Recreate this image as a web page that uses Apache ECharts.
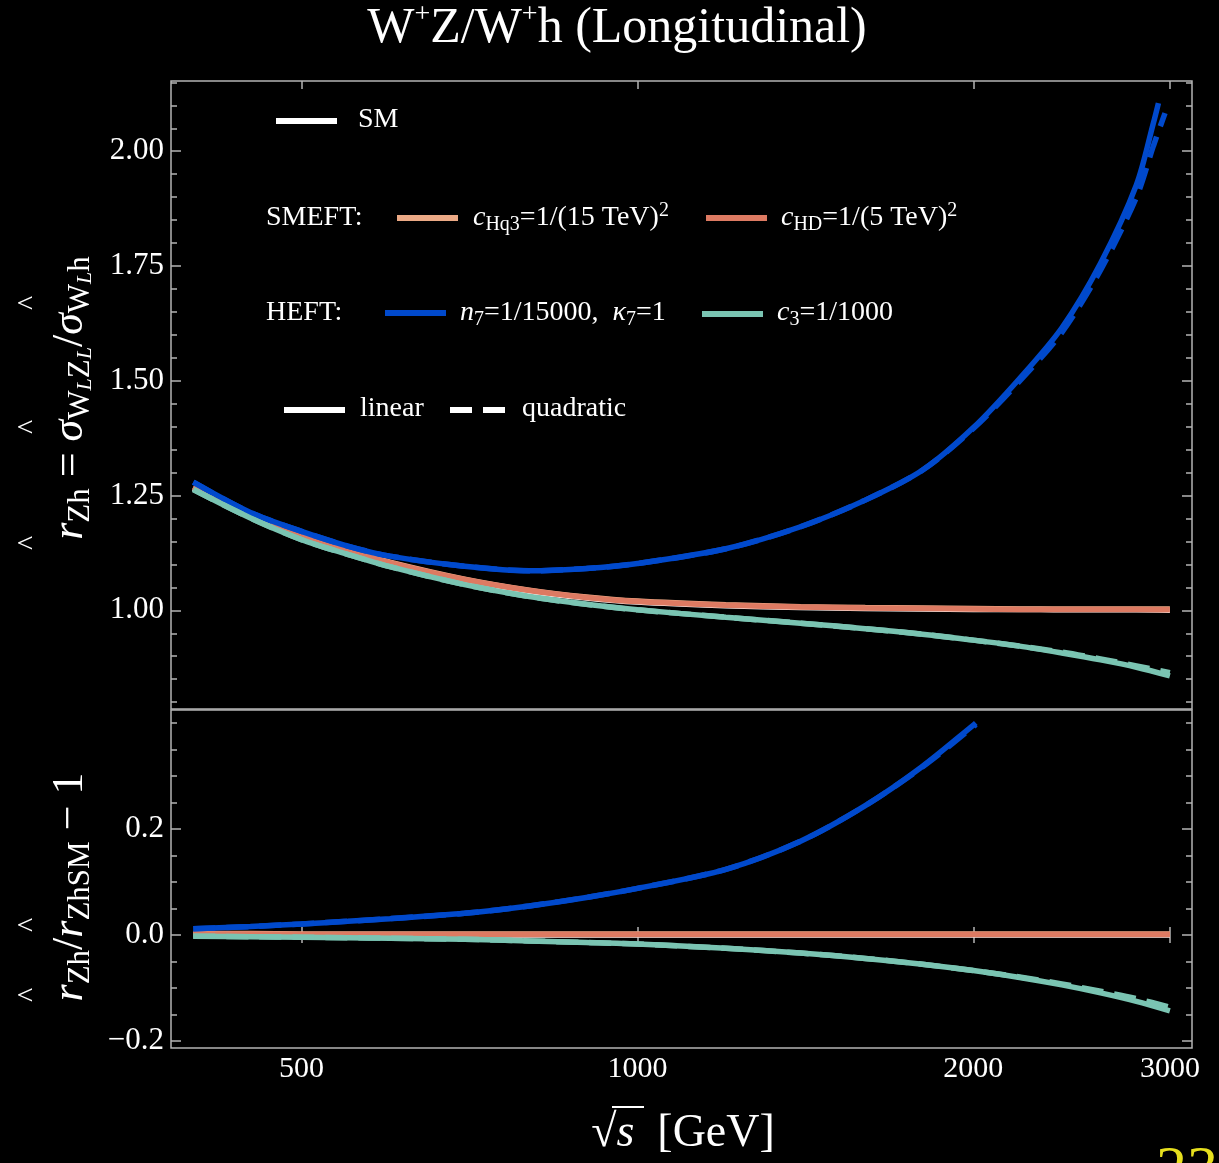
<!DOCTYPE html>
<html>
<head>
<meta charset="utf-8">
<title>W+Z/W+h (Longitudinal)</title>
<script src="https://cdn.jsdelivr.net/npm/echarts@6/dist/echarts.min.js"></script>
<style>
  html, body { margin: 0; padding: 0; background: #000; }
  #main { width: 1219px; height: 1163px; }
</style>
</head>
<body>
<div id="main"></div>
<script>
// sqrt(s) in GeV
var energies = [400, 450, 500, 550, 600, 700, 800, 900, 1000, 1200, 1400, 1600, 1800, 2000, 2200, 2400, 2600, 2800, 3000];

// top panel: r_Zh = sigma(WL ZL) / sigma(WL h)
var smTop   = [1.266, 1.205, 1.159, 1.128, 1.102, 1.065, 1.041, 1.027, 1.018, 1.010, 1.006, 1.004, 1.003, 1.002, 1.002, 1.001, 1.001, 1.001, 1.000];
var cHq3Top = [1.269, 1.208, 1.162, 1.131, 1.105, 1.068, 1.044, 1.029, 1.020, 1.012, 1.008, 1.006, 1.005, 1.004, 1.003, 1.003, 1.003, 1.003, 1.003];
var cHDTop  = [1.268, 1.207, 1.161, 1.130, 1.104, 1.067, 1.043, 1.028, 1.019, 1.011, 1.007, 1.005, 1.004, 1.003, 1.002, 1.002, 1.002, 1.002, 1.001];
var c3Top   = [1.263, 1.201, 1.154, 1.122, 1.095, 1.056, 1.030, 1.013, 1.001, 0.985, 0.972, 0.960, 0.948, 0.935, 0.922, 0.907, 0.892, 0.876, 0.857];
var c3TopQ  = [1.263, 1.201, 1.154, 1.122, 1.095, 1.056, 1.030, 1.013, 1.001, 0.985, 0.972, 0.960, 0.948, 0.935, 0.922, 0.909, 0.894, 0.879, 0.864];

var n7Energies  = [400, 450, 500, 550, 600, 700, 800, 900, 1000, 1200, 1400, 1600, 1800, 2000, 2200, 2400, 2600, 2800, 2900, 2930];
var n7Top       = [1.279, 1.213, 1.172, 1.140, 1.118, 1.096, 1.086, 1.091, 1.102, 1.134, 1.182, 1.240, 1.305, 1.398, 1.505, 1.615, 1.756, 1.927, 2.062, 2.105];
var n7EnergiesQ = [400, 450, 500, 550, 600, 700, 800, 900, 1000, 1200, 1400, 1600, 1800, 2000, 2200, 2400, 2600, 2800, 2900, 2970];
var n7TopQ      = [1.279, 1.213, 1.172, 1.140, 1.118, 1.096, 1.086, 1.091, 1.102, 1.134, 1.182, 1.240, 1.305, 1.396, 1.499, 1.605, 1.741, 1.900, 2.012, 2.083];

// bottom panel: r_Zh / r_ZhSM - 1
var smBot   = [0, 0, 0, 0, 0, 0, 0, 0, 0, 0, 0, 0, 0, 0, 0, 0, 0, 0, 0];
var cHq3Bot = [0.003, 0.003, 0.002, 0.002, 0.002, 0.002, 0.002, 0.002, 0.002, 0.002, 0.002, 0.002, 0.002, 0.002, 0.002, 0.002, 0.002, 0.002, 0.002];
var cHDBot  = [0.002, 0.002, 0.001, 0.001, 0.001, 0.001, 0.001, 0.001, 0.001, 0.001, 0.001, 0.001, 0.001, 0.001, 0.001, 0.001, 0.001, 0.001, 0.001];
var c3Bot   = [-0.002, -0.003, -0.004, -0.005, -0.006, -0.008, -0.011, -0.014, -0.017, -0.025, -0.034, -0.044, -0.055, -0.067, -0.080, -0.094, -0.109, -0.125, -0.143];
var c3BotQ  = [-0.002, -0.003, -0.004, -0.005, -0.006, -0.008, -0.011, -0.014, -0.017, -0.025, -0.034, -0.044, -0.055, -0.067, -0.079, -0.092, -0.106, -0.120, -0.136];

var n7BotEnergies = [400, 450, 500, 550, 600, 700, 800, 900, 1000, 1200, 1400, 1600, 1800, 2000, 2010];
var n7Bot  = [0.012, 0.016, 0.021, 0.026, 0.031, 0.041, 0.055, 0.071, 0.088, 0.124, 0.177, 0.244, 0.318, 0.396, 0.400];
var n7BotQ = [0.012, 0.016, 0.021, 0.026, 0.031, 0.041, 0.055, 0.071, 0.088, 0.124, 0.177, 0.244, 0.317, 0.393, 0.397];

// ticks
var xTicks = [500, 1000, 2000, 3000];
var topMajor = [1.00, 1.25, 1.50, 1.75, 2.00];
var topMinor = [0.80, 0.85, 0.90, 0.95, 1.05, 1.10, 1.15, 1.20, 1.30, 1.35, 1.40, 1.45, 1.55, 1.60, 1.65, 1.70, 1.80, 1.85, 1.90, 1.95, 2.05, 2.10, 2.15];
var botMajor = [-0.2, 0.0, 0.2];
var botMinor = [-0.15, -0.10, -0.05, 0.05, 0.10, 0.15, 0.25, 0.30, 0.35, 0.40];

var FONT = 'Liberation Serif';
var FRAME = '#b4b4b4';
var colSM = '#ffffff', colHq3 = '#eba985', colHD = '#dd7a62', colN7 = '#0049cc', colC3 = '#7ac4b2';

// x is drawn on log10(sqrt s); labels turn it back to GeV
var xMin = Math.log10(382), xMax = Math.log10(3140);
var xTickLog = xTicks.map(function (v) { return Math.log10(v); });

function pts(es, vs) {
    return es.map(function (e, i) { return [Math.log10(e), vs[i]]; });
}

function line(name, es, vs, color, gi, dashed) {
    return {
        name: name, type: 'line', xAxisIndex: gi, yAxisIndex: gi * 2,
        data: pts(es, vs), symbol: 'none', smooth: 0.3,
        lineStyle: { color: color, width: 5.5, type: dashed ? [22, 11] : 'solid', cap: 'butt' },
        silent: true
    };
}

function xAx(gi, pos, labels) {
    return {
        type: 'value', gridIndex: gi, position: pos, min: xMin, max: xMax,
        axisLine: { show: false }, splitLine: { show: false },
        axisTick: { show: true, inside: true, length: 8, customValues: xTickLog, lineStyle: { color: FRAME, width: 1.5 } },
        axisLabel: {
            show: labels, customValues: xTickLog, margin: 6,
            color: '#fff', fontFamily: FONT, fontSize: 30,
            formatter: function (v) { return String(Math.round(Math.pow(10, v))); }
        }
    };
}

function yAx(gi, pos, min, max, ticks, len, labels, fmt) {
    return {
        type: 'value', gridIndex: gi, position: pos, min: min, max: max,
        axisLine: { show: false }, splitLine: { show: false },
        axisTick: { show: true, inside: true, length: len, customValues: ticks, lineStyle: { color: FRAME, width: 1.5 } },
        axisLabel: { show: labels, customValues: ticks, margin: 7, color: '#fff', fontFamily: FONT, fontSize: 31, formatter: fmt }
    };
}

var fmtTop = function (v) { return v.toFixed(2); };
var fmtBot = function (v) { return (v < -1e-9 ? '\u2212' : '') + Math.abs(v).toFixed(1); };

var topMin = 0.785, topMax = 2.153, botMin = -0.213, botMax = 0.4245;

// rich text styles
function rs(size, lh, extra) {
    var o = { fontFamily: FONT, fontSize: size, lineHeight: lh, fill: '#fff' };
    for (var k in extra) o[k] = extra[k];
    return o;
}
var legRich = {
    m: rs(28, 34, {}),
    i: rs(28, 34, { fontStyle: 'italic' }),
    s: rs(20, 17, { verticalAlign: 'bottom' }),
    p: rs(20, 20, { verticalAlign: 'top' })
};
var yRich = {
    m: rs(44, 52, {}),
    i: rs(44, 52, { fontStyle: 'italic' }),
    s: rs(31, 27, { verticalAlign: 'bottom' }),
    ss: rs(22, 8, { verticalAlign: 'bottom', fontStyle: 'italic' })
};

function txt(x, y, text, rich, extra) {
    var st = { text: text, rich: rich, fill: '#fff', align: 'left', verticalAlign: 'middle' };
    for (var k in extra) st[k] = extra[k];
    return { type: 'text', x: x, y: y, silent: true, style: st };
}
function seg(x1, x2, y, color, dash) {
    return { type: 'line', silent: true, shape: { x1: x1, y1: y, x2: x2, y2: y },
             style: { stroke: color, lineWidth: 6, lineDash: dash || null } };
}
function hat(x, y) {
    return { type: 'text', x: x, y: y, rotation: Math.PI / 2, silent: true,
             style: { text: '^', fill: '#fff', fontFamily: FONT, fontSize: 30, align: 'center', verticalAlign: 'middle' } };
}

var graphics = [
    // title
    txt(617, 29, '{m|W}{p|+}{m|Z/W}{p|+}{m|h (Longitudinal)}', {
        m: rs(50, 56, {}), p: rs(28, 30, { verticalAlign: 'top' })
    }, { align: 'center' }),
    // legend
    seg(276, 337, 121, colSM),
    txt(358, 120, '{m|SM}', legRich),
    txt(266, 218, '{m|SMEFT:}', legRich),
    seg(397, 458, 218, colHq3),
    txt(473, 218, '{i|c}{s|Hq3}{m|=1/(15 TeV)}{p|2}', legRich),
    seg(706, 767, 218, colHD),
    txt(781, 218, '{i|c}{s|HD}{m|=1/(5 TeV)}{p|2}', legRich),
    txt(266, 313, '{m|HEFT:}', legRich),
    seg(385, 446, 313, colN7),
    txt(460, 313, '{i|n}{s|7}{m|=1/15000,  }{i|\u03ba}{s|7}{m|=1}', legRich),
    seg(702, 763, 314, colC3),
    txt(777, 313, '{i|c}{s|3}{m|=1/1000}', legRich),
    seg(284, 345, 410, '#fff'),
    txt(360, 409, '{m|linear}', legRich),
    seg(450, 506, 410, '#fff', [22, 11]),
    txt(522, 409, '{m|quadratic}', legRich),
    // y axis titles
    { type: 'text', x: 70, y: 398, rotation: Math.PI / 2, silent: true,
      style: { text: '{i|r}{s|Zh}{m| = }{i|\u03c3}{s|W}{ss|L}{s|Z}{ss|L}{m|/}{i|\u03c3}{s|W}{ss|L}{s|h}',
               rich: yRich, align: 'center', verticalAlign: 'middle' } },
    hat(30, 543), hat(30, 427), hat(30, 303),
    { type: 'text', x: 70, y: 887, rotation: Math.PI / 2, silent: true,
      style: { text: '{i|r}{s|Zh}{m|/}{i|r}{s|ZhSM}{m| \u2212 1}',
               rich: yRich, align: 'center', verticalAlign: 'middle' } },
    hat(30, 995), hat(30, 925),
    // x axis title
    txt(683, 1134, '{m|\u221a}{i|s}{m|  [GeV]}', {
        m: rs(46, 54, {}), i: rs(46, 54, { fontStyle: 'italic' })
    }, { align: 'center' }),
    { type: 'line', silent: true, shape: { x1: 612, y1: 1107, x2: 644, y2: 1107 }, style: { stroke: '#fff', lineWidth: 2 } },
    // slide page number, cut off at the bottom edge
    txt(1156, 1172, '{m|23}', { m: rs(62, 62, { fill: '#e6df1e' }) }, {})
];

var option = {
    backgroundColor: '#000',
    animation: false,
    grid: [
        { left: 171, top: 81, width: 1021, height: 628, show: true, borderColor: FRAME, borderWidth: 1.5 },
        { left: 171, top: 710, width: 1021, height: 338, show: true, borderColor: FRAME, borderWidth: 1.5 },
        { left: 171, top: 81, width: 1021, height: 628 },
        { left: 171, top: 710, width: 1021, height: 338 }
    ],
    xAxis: [
        xAx(0, 'top', false),
        xAx(1, 'bottom', true),
        { type: 'value', gridIndex: 2, min: xMin, max: xMax, show: false },
        xAx(3, 'top', false)
    ],
    yAxis: [
        yAx(0, 'left', topMin, topMax, topMajor, 10, true, fmtTop),
        yAx(0, 'right', topMin, topMax, topMajor, 10, false, fmtTop),
        yAx(1, 'left', botMin, botMax, botMajor, 10, true, fmtBot),
        yAx(1, 'right', botMin, botMax, botMajor, 10, false, fmtBot),
        yAx(2, 'left', topMin, topMax, topMinor, 6, false, fmtTop),
        yAx(2, 'right', topMin, topMax, topMinor, 6, false, fmtTop),
        yAx(3, 'left', botMin, botMax, botMinor, 6, false, fmtBot),
        yAx(3, 'right', botMin, botMax, botMinor, 6, false, fmtBot)
    ],
    series: [
        line('SM', energies, smTop, colSM, 0),
        line('cHq3', energies, cHq3Top, colHq3, 0),
        line('cHD', energies, cHDTop, colHD, 0),
        line('n7 linear', n7Energies, n7Top, colN7, 0),
        line('n7 quadratic', n7EnergiesQ, n7TopQ, colN7, 0, true),
        line('c3 linear', energies, c3Top, colC3, 0),
        line('c3 quadratic', energies, c3TopQ, colC3, 0, true),

        line('SM', energies, smBot, colSM, 1),
        line('cHq3', energies, cHq3Bot, colHq3, 1),
        line('cHD', energies, cHDBot, colHD, 1),
        line('n7 linear', n7BotEnergies, n7Bot, colN7, 1),
        line('n7 quadratic', n7BotEnergies, n7BotQ, colN7, 1, true),
        line('c3 linear', energies, c3Bot, colC3, 1),
        line('c3 quadratic', energies, c3BotQ, colC3, 1, true)
    ],
    graphic: graphics
};

var myChart = echarts.init(document.getElementById('main'));
myChart.setOption(option);
</script>
</body>
</html>
